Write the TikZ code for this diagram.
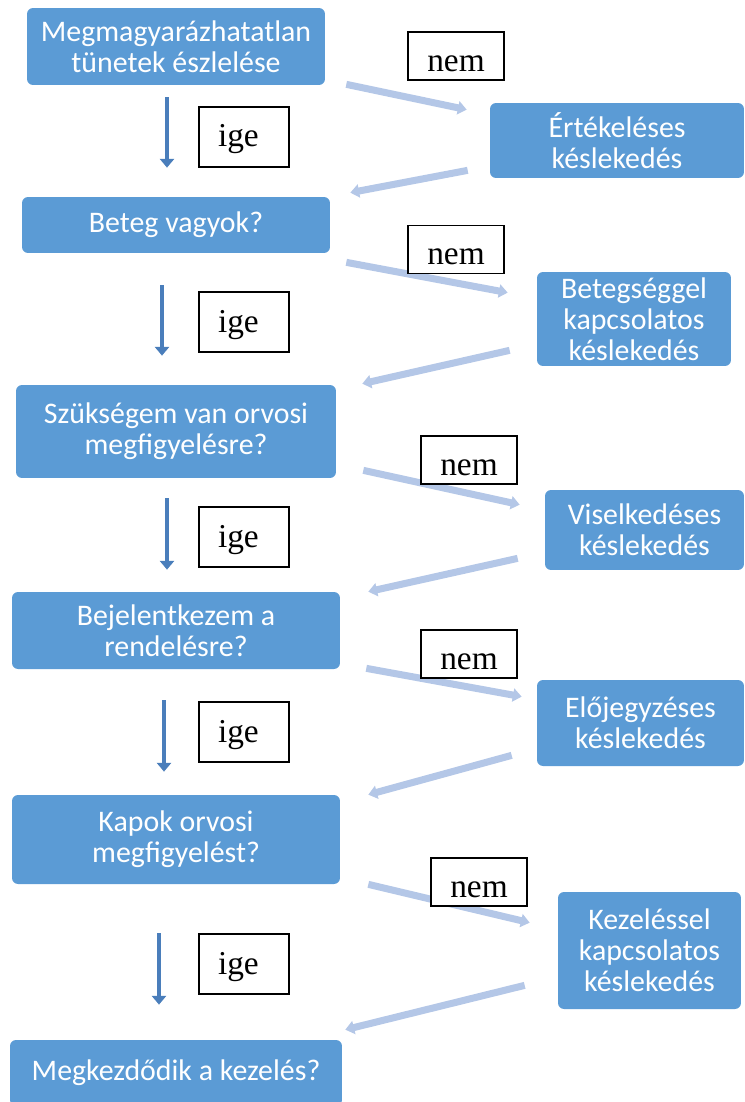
\documentclass[tikz,border=0pt]{standalone}
\usepackage{fontspec}
\setmainfont{Carlito}
\newfontfamily\labelfont{Liberation Serif}
\usetikzlibrary{arrows.meta}
\usetikzlibrary{positioning, calc}
\definecolor{boxblue}{HTML}{5B9BD5}
\definecolor{paleblue}{HTML}{B4C7E7}
\definecolor{darkblue}{HTML}{4A7EBB}
\tikzset{stage/.style={fill=boxblue, text=white, rounded corners=0.12cm, align=center, inner sep=0pt, font=\fontsize{17}{17.6}\selectfont}}
\tikzset{answer/.style={draw=black, fill=white, line width=0.6pt, inner sep=0pt, text depth=0pt, font=\labelfont\fontsize{19}{21}\selectfont}}
\tikzset{nemlabel/.style={answer, minimum width=1.92cm, minimum height=0.96cm, text height=0.62cm}}
\tikzset{igelabel/.style={answer, minimum height=1.2cm, text height=0.4cm, text width=1.04cm, inner xsep=0.38cm, align=left}}
\tikzset{yesarrow/.style={draw=darkblue, line width=2.8pt, -{Triangle[width=8pt,length=5pt]}}}
\tikzset{noarrow/.style={draw=paleblue, line width=4pt, -{Triangle[width=7.5pt,length=5pt]}}}

\begin{document}
\begin{tikzpicture}[x=0.02cm, y=-0.02cm]
	\useasboundingbox (0,0) rectangle (744,1102);
	\clip (0,0) rectangle (744,1102);

	% LEFT column: the questions
	\node[stage, minimum width=5.96cm, minimum height=1.54cm] (m1) at (176,46.5) {Megmagyarázhatatlan\\tünetek észlelése};
	\node[stage, minimum width=6.16cm, minimum height=1.12cm] (m2) at (176,225) {Beteg vagyok?};
	\node[stage, minimum width=6.4cm, minimum height=1.86cm] (m3) at (176,431.5) {Szükségem van orvosi\\megfigyelésre?};
	\node[stage, minimum width=6.56cm, minimum height=1.54cm] (m4) at (176,630.5) {Bejelentkezem a\\rendelésre?};
	\node[stage, minimum width=6.56cm, minimum height=1.78cm] (m5) at (176,839.5) {Kapok orvosi\\megfigyelést?};
	\node[stage, minimum width=6.64cm, minimum height=1.32cm] (m6) at (176,1073) {Megkezdődik a kezelés?};

	% RIGHT column: the delays
	\node[stage, minimum width=5.08cm, minimum height=1.5cm] (k1) at (617,140.5) {Értékeléses\\késlekedés};
	\node[stage, minimum width=3.88cm, minimum height=1.88cm] (k2) at (634,319) {Betegséggel\\kapcsolatos\\késlekedés};
	\node[stage, minimum width=3.98cm, minimum height=1.6cm] (k3) at (644.5,530) {Viselkedéses\\késlekedés};
	\node[stage, minimum width=4.14cm, minimum height=1.72cm] (k4) at (640.5,723) {Előjegyzéses\\késlekedés};
	\node[stage, minimum width=3.66cm, minimum height=2.34cm] (k5) at (649.5,950.5) {Kezeléssel\\kapcsolatos\\késlekedés};

	% Down (ige)
	\draw[yesarrow] ([xshift=-0.18cm, yshift=-0.24cm]m1.south) -- ([xshift=-0.18cm, yshift=0.58cm]m2.north);
	\draw[yesarrow] ([xshift=-0.28cm, yshift=-0.64cm]m2.south) -- ([xshift=-0.28cm, yshift=0.58cm]m3.north);
	\draw[yesarrow] ([xshift=-0.18cm, yshift=-0.4cm]m3.south) -- ([xshift=-0.18cm, yshift=0.44cm]m4.north);
	\draw[yesarrow] ([xshift=-0.24cm, yshift=-0.62cm]m4.south) -- ([xshift=-0.24cm, yshift=0.46cm]m5.north);
	\draw[yesarrow] ([xshift=-0.34cm, yshift=-0.98cm]m5.south) -- ([xshift=-0.34cm, yshift=0.7cm]m6.north);

	% Out to the delays (nem)
	\draw[noarrow] ([xshift=0.42cm, yshift=0.02cm]m1.south east) -- ([xshift=-0.46cm, yshift=-0.14cm]k1.north west);
	\draw[noarrow] ([xshift=0.32cm, yshift=-0.18cm]m2.south east) -- ([xshift=-0.58cm, yshift=-0.42cm]k2.north west);
	\draw[noarrow] ([xshift=0.54cm, yshift=0.16cm]m3.south east) -- ([xshift=-0.5cm, yshift=-0.3cm]k3.north west);
	\draw[noarrow] ([xshift=0.52cm, yshift=0.02cm]m4.south east) -- ([xshift=-0.3cm, yshift=-0.34cm]k4.north west);
	\draw[noarrow] ([xshift=0.56cm]m5.south east) -- ([xshift=-0.56cm, yshift=-0.62cm]k5.north west);

	% Back from the delays
	\draw[noarrow] ([xshift=-0.44cm, yshift=0.16cm]k1.south west) -- ([xshift=0.4cm, yshift=0.08cm]m2.north east);
	\draw[noarrow] ([xshift=-0.54cm, yshift=0.32cm]k2.south west) -- ([xshift=0.52cm, yshift=0.02cm]m3.north east);
	\draw[noarrow] ([xshift=-0.54cm, yshift=0.24cm]k3.south west) -- ([xshift=0.56cm]m4.north east);
	\draw[noarrow] ([xshift=-0.5cm, yshift=0.22cm]k4.south west) -- ([xshift=0.56cm]m5.north east);
	\draw[noarrow] ([xshift=-0.66cm, yshift=0.48cm]k5.south west) -- ([xshift=0.06cm, yshift=0.2cm]m6.north east);

	% answers, on top of the arrows
	\node[nemlabel] (nem1) at (456,56) {nem};
	\node[nemlabel] (nem2) at (456,249.5) {nem};
	\node[nemlabel] (nem3) at (469,460) {nem};
	\node[nemlabel] (nem4) at (469,654) {nem};
	\node[nemlabel] (nem5) at (479,882) {nem};

	\node[igelabel] (ige1) at (244,137) {ige};
	\node[igelabel] (ige2) at (244,322) {ige};
	\node[igelabel] (ige3) at (244,537) {ige};
	\node[igelabel] (ige4) at (244,732) {ige};
	\node[igelabel] (ige5) at (244,964) {ige};
\end{tikzpicture}
\end{document}
